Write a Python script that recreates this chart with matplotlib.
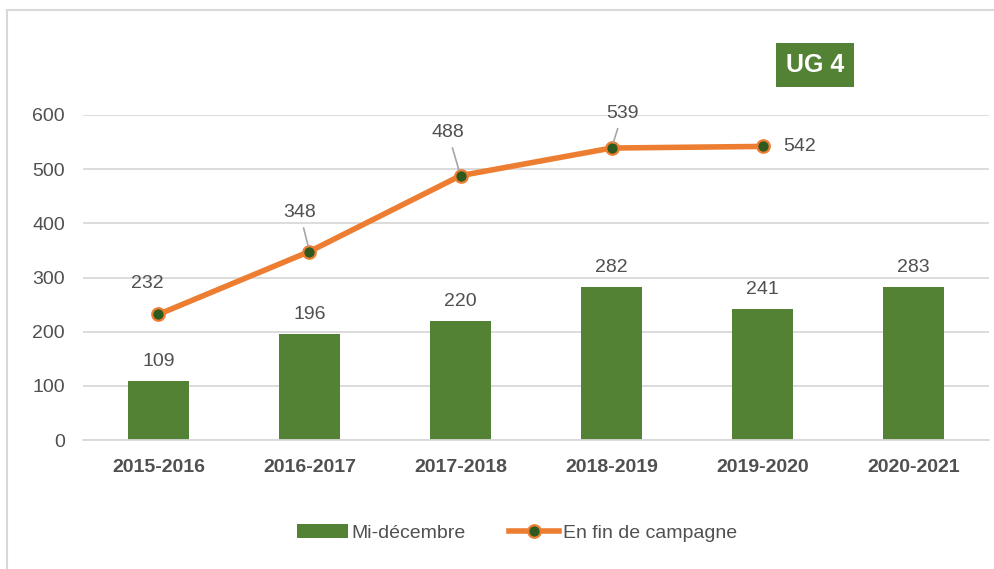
import matplotlib
matplotlib.use("Agg")
import matplotlib.pyplot as plt
from matplotlib.patches import Rectangle

plt.rcParams['font.family'] = ['Liberation Sans Narrow', 'Liberation Sans', 'DejaVu Sans']

# Données
campagnes = ["2015-2016", "2016-2017", "2017-2018", "2018-2019", "2019-2020", "2020-2021"]
mi_decembre = [109, 196, 220, 282, 241, 283]
fin_campagne = [232, 348, 488, 539, 542]
yticks = [0, 100, 200, 300, 400, 500, 600]

VERT, VERT_FONCE, ORANGE = "#548235", "#2f5a1f", "#ED7D31"
GRIS_TXT, GRIS_GRILLE = "#505050", "#d9d9d9"

fig = plt.figure(figsize=(9.95, 5.69), dpi=100)
ax = fig.add_axes([0.0834, 0.2267, 0.9106, 0.5712])

x = list(range(len(campagnes)))
barres = ax.bar(x, mi_decembre, width=0.4, color=VERT, zorder=2, label="Mi-décembre")
courbe, = ax.plot(x[:len(fin_campagne)], fin_campagne, color=ORANGE, lw=4, marker="o",
                  markersize=9, markerfacecolor=VERT_FONCE, markeredgecolor=ORANGE,
                  markeredgewidth=1.6, zorder=4, label="En fin de campagne")

# étiquettes des barres
for xi, v in zip(x, mi_decembre):
    ax.annotate(str(v), (xi, v), textcoords="offset points", xytext=(0, 8),
                ha="center", va="bottom", fontsize=14, color=GRIS_TXT)

# étiquettes de la courbe (décalage en points, avec trait de rappel)
decalages = [(-8, 22, False), (-7, 28, True), (-9, 31, True), (8, 25, True), (27, 0, False)]
for xi, v, (dx, dy, trait) in zip(x, fin_campagne, decalages):
    ap = dict(arrowstyle="-", color="#a6a6a6", lw=1.2, shrinkA=3, shrinkB=4) if trait else None
    ax.annotate(str(v), (xi, v), textcoords="offset points", xytext=(dx, dy),
                ha="center", va="center", fontsize=14, color=GRIS_TXT,
                arrowprops=ap, annotation_clip=False, zorder=5)

ax.set_xlim(-0.5, len(campagnes) - 0.5)
ax.set_ylim(0, 600)
ax.set_yticks(yticks)
ax.set_xticks(x)
ax.set_xticklabels(campagnes, fontsize=14, fontweight="bold", color=GRIS_TXT)
ax.tick_params(axis="y", labelsize=14, labelcolor=GRIS_TXT, length=0, pad=13)
ax.tick_params(axis="x", length=0, pad=14)
ax.grid(axis="y", color=GRIS_GRILLE, lw=1.3, zorder=0)
ax.set_axisbelow(True)
for s in ["top", "right", "left"]:
    ax.spines[s].set_visible(False)
ax.spines["bottom"].set_color(GRIS_GRILLE)
ax.spines["bottom"].set_linewidth(1.3)

fig.legend([barres, courbe], ["Mi-décembre", "En fin de campagne"],
           loc="center", bbox_to_anchor=(0.52, 0.063), ncol=2, frameon=False,
           fontsize=14, labelcolor=GRIS_TXT, handlelength=2.6, columnspacing=2.2,
           handletextpad=0.2)

# cadre et étiquette UG 4
fig.patches.append(Rectangle((7 / 995, -0.05), 1.1, 1 - 10 / 569 + 0.05,
                             transform=fig.transFigure, fill=False,
                             edgecolor="#d9d9d9", lw=1.5))
fig.text(815 / 995, 1 - 65 / 569, "UG 4", ha="center", va="center", fontsize=18,
         fontweight="bold", color="white",
         bbox=dict(boxstyle="square,pad=0.4", facecolor=VERT, edgecolor="none"))

fig.savefig("out.png", dpi=100)
